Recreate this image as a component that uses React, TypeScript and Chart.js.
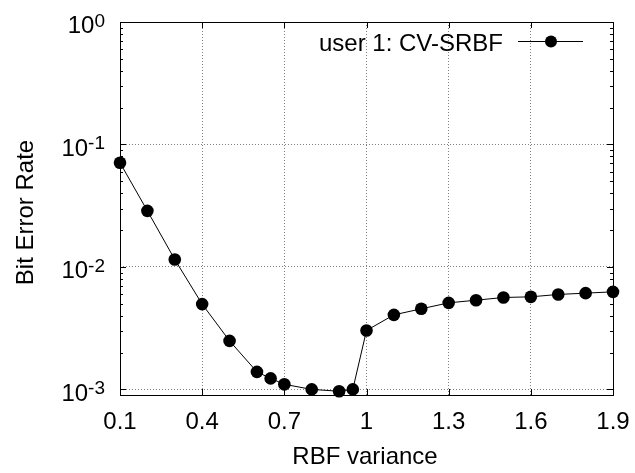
import { useEffect, useRef } from 'react';
import { Chart, registerables } from 'chart.js';

Chart.register(...registerables);

// ---- data ----
const xValues = [0.1, 0.2, 0.3, 0.4, 0.5, 0.6, 0.65, 0.7, 0.8, 0.9, 0.95, 1.0, 1.1, 1.2, 1.3, 1.4, 1.5, 1.6, 1.7, 1.8, 1.9];
const berValues = [0.0709, 0.0287, 0.0115, 0.00497, 0.00249, 0.00139, 0.00123, 0.0011, 0.001, 0.000966, 0.001, 0.00303, 0.00406, 0.00455, 0.00509, 0.00535, 0.00563, 0.0057, 0.00596, 0.00611, 0.00626];
const xTickValues = [0.1, 0.4, 0.7, 1.0, 1.3, 1.6, 1.9];
const xTickLabels = ['0.1', '0.4', '0.7', '1', '1.3', '1.6', '1.9'];
const yDecades = [-3, -2, -1, 0];
const yExponentLabels = ['-3', '-2', '-1', '0'];
const seriesLabel = 'user 1: CV-SRBF';
const xTitle = 'RBF variance';
const yTitle = 'Bit Error Rate';

const FONT = '"Liberation Sans", Arial, Helvetica, sans-serif';

function yTickList(): number[] {
  const out: number[] = [];
  for (let i = 0; i < yDecades.length; i++) {
    const k = yDecades[i];
    out.push(Math.pow(10, k));
    if (i < yDecades.length - 1) {
      for (let m = 2; m <= 9; m++) out.push(m * Math.pow(10, k));
    }
  }
  return out;
}

function isDecade(v: number): boolean {
  const l = Math.log10(v);
  return Math.abs(l - Math.round(l)) < 1e-9;
}

const decorPlugin = {
  id: 'decor',
  afterDraw(chart: any) {
    const { ctx, chartArea: a, scales } = chart;
    const x = scales.x;
    const y = scales.y;
    const r = (v: number) => Math.round(v) + 0.5;
    ctx.save();
    ctx.strokeStyle = '#000';
    ctx.fillStyle = '#000';
    ctx.lineWidth = 1;
    ctx.setLineDash([]);

    // border
    ctx.strokeRect(r(a.left), r(a.top), Math.round(a.right) - Math.round(a.left), Math.round(a.bottom) - Math.round(a.top));

    // y ticks (left & right, inward)
    ctx.beginPath();
    for (const v of yTickList()) {
      const py = r(y.getPixelForValue(v));
      const len = isDecade(v) ? 6 : 3;
      ctx.moveTo(a.left, py);
      ctx.lineTo(a.left + len, py);
      ctx.moveTo(a.right, py);
      ctx.lineTo(a.right - len, py);
    }
    // x ticks (bottom & top, inward)
    for (const v of xTickValues) {
      const px = r(x.getPixelForValue(v));
      ctx.moveTo(px, a.bottom);
      ctx.lineTo(px, a.bottom - 6);
      ctx.moveTo(px, a.top);
      ctx.lineTo(px, a.top + 6);
    }
    ctx.stroke();

    // y tick labels 10^k
    ctx.textBaseline = 'alphabetic';
    ctx.textAlign = 'left';
    const mainFont = `24px ${FONT}`;
    const supFont = `19px ${FONT}`;
    yDecades.forEach((k, i) => {
      const py = y.getPixelForValue(Math.pow(10, k));
      ctx.font = mainFont;
      const wMain = ctx.measureText('10').width;
      ctx.font = supFont;
      const wSup = ctx.measureText(yExponentLabels[i]).width;
      const right = a.left - 15;
      const start = right - wMain - wSup;
      ctx.font = mainFont;
      ctx.fillText('10', start, py + 11.4);
      ctx.font = supFont;
      ctx.fillText(yExponentLabels[i], start + wMain, py + 5);
    });

    // x tick labels
    ctx.font = mainFont;
    ctx.textAlign = 'center';
    xTickValues.forEach((v, i) => {
      ctx.fillText(xTickLabels[i], x.getPixelForValue(v), a.bottom + 34);
    });

    // x title
    ctx.fillText(xTitle, (a.left + a.right) / 2 - 1.5, a.bottom + 69);

    // y title
    ctx.save();
    ctx.translate(33, (a.top + a.bottom) / 2 + 4);
    ctx.rotate(-Math.PI / 2);
    ctx.textAlign = 'center';
    ctx.fillText(yTitle, 0, 0);
    ctx.restore();

    // legend
    const label = chart.data.datasets[0].label;
    ctx.textAlign = 'right';
    ctx.fillText(label, a.right - 110, a.top + 28.5);
    const ly = Math.round(a.top + 19) + 0.5;
    ctx.beginPath();
    ctx.moveTo(a.right - 95, ly);
    ctx.lineTo(a.right - 30, ly);
    ctx.stroke();
    ctx.beginPath();
    ctx.arc(a.right - 62, ly, 6, 0, Math.PI * 2);
    ctx.fill();

    ctx.restore();
  },
};

export default function App() {
  const ref = useRef<HTMLCanvasElement | null>(null);

  useEffect(() => {
    document.body.style.margin = '0';
    const canvas = ref.current;
    if (!canvas) return;
    const chart = new Chart(canvas, {
      type: 'line',
      data: {
        datasets: [
          {
            label: seriesLabel,
            data: xValues.map((xv, i) => ({ x: xv, y: berValues[i] })),
            borderColor: '#000',
            borderWidth: 1,
            backgroundColor: '#000',
            pointBackgroundColor: '#000',
            pointBorderColor: '#000',
            pointBorderWidth: 0,
            pointRadius: 6.3,
            tension: 0,
            fill: false,
            clip: false as any,
          },
        ],
      },
      options: {
        animation: false,
        responsive: false,
        devicePixelRatio: 1,
        layout: { padding: { left: 120, right: 22, top: 22, bottom: 78 } },
        plugins: {
          legend: { display: false },
          tooltip: { enabled: false },
        },
        scales: {
          x: {
            type: 'linear',
            min: 0.1,
            max: 1.9,
            afterBuildTicks: (scale: any) => {
              scale.ticks = xTickValues.map((v) => ({ value: v }));
            },
            ticks: { display: false },
            grid: { display: true, drawTicks: false, color: '#808080', lineWidth: 1 },
            border: { display: false, dash: [1, 2] },
          },
          y: {
            type: 'logarithmic',
            min: 0.0009,
            max: 1,
            afterBuildTicks: (scale: any) => {
              scale.ticks = yDecades.map((k) => ({ value: Math.pow(10, k) }));
            },
            ticks: { display: false },
            grid: { display: true, drawTicks: false, color: '#808080', lineWidth: 1 },
            border: { display: false, dash: [1, 2] },
          },
        },
      },
      plugins: [decorPlugin],
    });
    return () => chart.destroy();
  }, []);

  return (
    <div style={{ width: 635, height: 473 }}>
      <canvas ref={ref} width={635} height={473} style={{ display: 'block' }} />
    </div>
  );
}
